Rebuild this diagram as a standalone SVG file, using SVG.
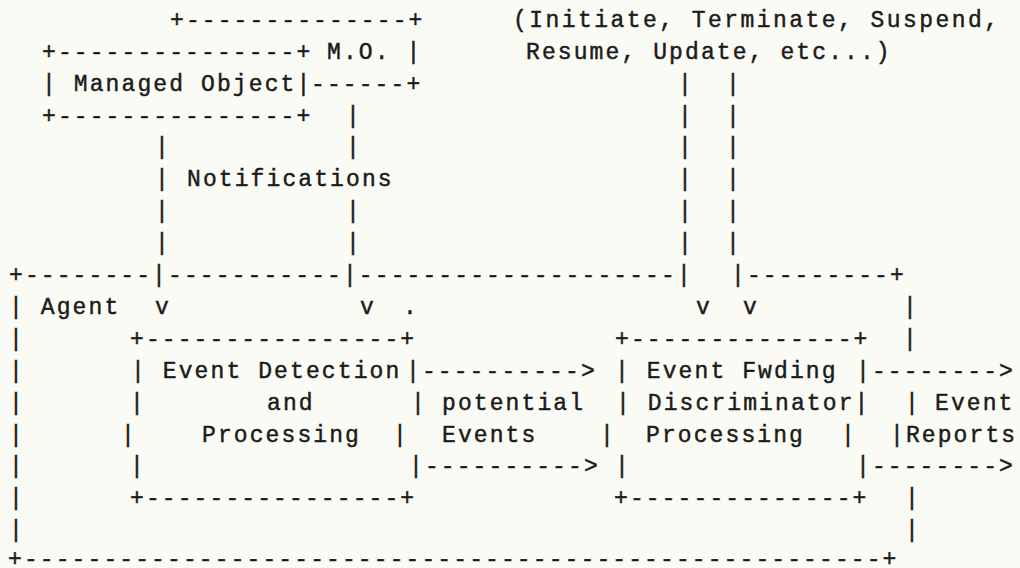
<svg xmlns="http://www.w3.org/2000/svg" width="1020" height="568" viewBox="0 0 1020 568" xml:space="preserve">
  <style>
    .t { font-family: "Liberation Mono", "DejaVu Sans Mono", monospace; font-size: 23px; letter-spacing: 2.1px; fill: #1b1b1b; stroke: #1b1b1b; stroke-width: 0.45px; white-space: pre; }
    .wide { letter-spacing: 2.45px; }
  </style>
  <rect x="0" y="0" width="1020" height="568" fill="#fbfbf6"/>

  <!-- Managed Object box -->
  <g id="managed-object" class="t">
    <text x="42" y="58.7">+---------------+</text>
    <text x="42" y="90.6">| Managed Object|</text>
    <text x="42" y="122.5">+---------------+</text>
  </g>

  <!-- M.O. box behind it -->
  <g id="mo-box" class="t">
    <text x="170" y="26.8">+--------------+</text>
    <text x="327" y="58.7">M.O. |</text>
    <text x="311" y="90.6">------+</text>
  </g>

  <!-- management operations label -->
  <g id="operations-label" class="t">
    <text class="wide" x="513" y="26.8">(Initiate, Terminate, Suspend,</text>
    <text x="526" y="58.7">Resume, Update, etc...)</text>
  </g>

  <!-- Agent enclosure -->
  <g id="agent" class="t">
    <text x="9" y="282">+--------|-----------|--------------------|</text>
    <text x="731" y="282">|---------+</text>
    <text x="9" y="313.9">| Agent</text>
    <text x="9" y="345.8">|</text>
    <text x="9" y="377.7">|</text>
    <text x="9" y="409.6">|</text>
    <text x="9" y="441.5">|</text>
    <text x="9" y="473.4">|</text>
    <text x="9" y="505.3">|</text>
    <text x="9" y="537.2">|</text>
    <text x="8" y="566">+------------------------------------------------------+</text>
    <text x="903" y="313.9">|</text>
    <text x="903" y="345.8">|</text>
    <text x="905" y="409.6">|</text>
    <text x="905" y="505.3">|</text>
    <text x="905" y="537.2">|</text>
    <text x="403" y="313.9">.</text>
  </g>

  <!-- Event Detection and Processing box -->
  <g id="event-detection" class="t">
    <text x="130" y="345.8">+----------------+</text>
    <text x="131" y="377.7">| Event Detection</text>
    <text x="130" y="409.6">|</text>
    <text x="267" y="409.6">and</text>
    <text x="121" y="441.5">|</text>
    <text x="202" y="441.5">Processing</text>
    <text x="393" y="441.5">|</text>
    <text x="130" y="473.4">|</text>
    <text x="130" y="505.3">+----------------+</text>
    <text x="411" y="409.6">|</text>
  </g>

  <!-- Event Forwarding Discriminator box -->
  <g id="discriminator" class="t">
    <text x="615" y="345.8">+--------------+</text>
    <text x="615" y="377.7">| Event Fwding</text>
    <text x="616" y="409.6">| Discriminator|</text>
    <text x="600" y="441.5">|</text>
    <text x="646" y="441.5">Processing</text>
    <text x="841" y="441.5">|</text>
    <text x="615" y="473.4">|</text>
    <text x="614" y="505.3">+--------------+</text>
  </g>

  <!-- connectors -->
  <g id="connectors" class="t">
    <!-- M.O. down to the agent -->
    <text x="346" y="122.5">|</text>
    <text x="346" y="154.4">|</text>
    <text x="346" y="218.2">|</text>
    <text x="346" y="250.1">|</text>
    <text x="360" y="313.9">v</text>
    <!-- Managed Object down to the agent -->
    <text x="155" y="154.4">|</text>
    <text x="155" y="186.3">|</text>
    <text x="155" y="218.2">|</text>
    <text x="155" y="250.1">|</text>
    <text x="155" y="313.9">v</text>
    <!-- operations into the discriminator -->
    <text x="678" y="90.6">|</text><text x="726" y="90.6">|</text>
    <text x="678" y="122.5">|</text><text x="726" y="122.5">|</text>
    <text x="678" y="154.4">|</text><text x="726" y="154.4">|</text>
    <text x="678" y="186.3">|</text><text x="726" y="186.3">|</text>
    <text x="678" y="218.2">|</text><text x="726" y="218.2">|</text>
    <text x="678" y="250.1">|</text><text x="726" y="250.1">|</text>
    <text x="696" y="313.9">v</text>
    <text x="743" y="313.9">v</text>
    <!-- potential events -->
    <text x="406" y="377.7">|----------></text>
    <text x="409" y="473.4">|----------></text>
    <!-- event reports -->
    <text x="856" y="377.7">|--------></text>
    <text x="856" y="473.4">|--------></text>
  </g>

  <!-- flow labels -->
  <g id="labels" class="t">
    <text x="187" y="186.3">Notifications</text>
    <text x="442" y="409.6">potential</text>
    <text x="442" y="441.5">Events</text>
    <text x="935" y="409.6">Event</text>
    <text x="890" y="441.5">|Reports</text>
  </g>
</svg>
